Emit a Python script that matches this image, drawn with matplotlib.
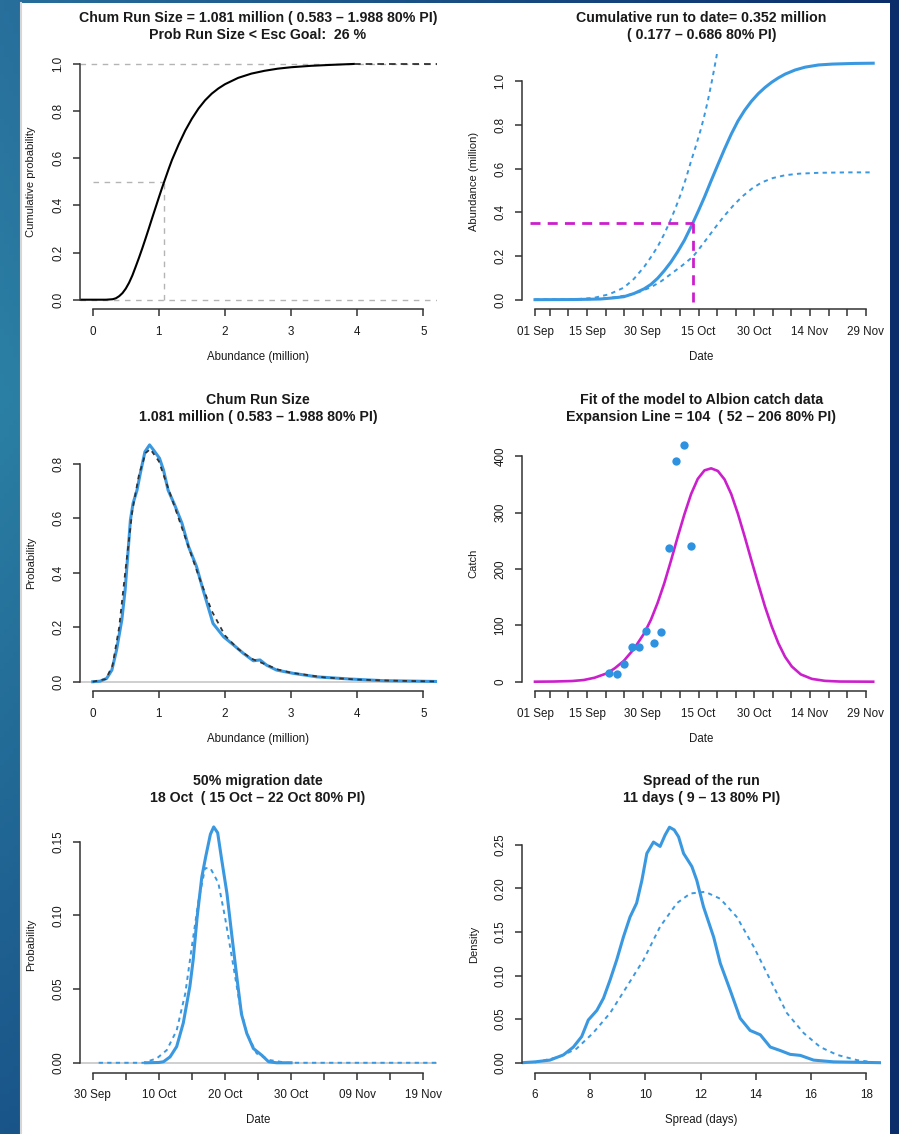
import numpy as np
import matplotlib
matplotlib.use("Agg")
import matplotlib.pyplot as plt
from matplotlib.patches import Rectangle
from matplotlib.lines import Line2D

plt.rcParams['font.family'] = ['Liberation Sans', 'DejaVu Sans']

W, H = 899, 1134
TXT = '#1a1a1a'
AX = '#333333'
BLUE = '#3a98e0'
PTBLUE = '#2f92e0'
MAG = '#cc1fcc'
GRAY = '#b4b4b4'
LGRAY = '#cccccc'

# ---------------- data ----------------
# Panel 1: cumulative probability of run size (million)
cdf_x = [-0.2, 0.2, 0.3, 0.35, 0.4, 0.45, 0.5, 0.55, 0.6, 0.65, 0.7, 0.75, 0.8, 0.85, 0.9, 0.95,
         1.0, 1.05, 1.1, 1.15, 1.2, 1.3, 1.4, 1.5, 1.6, 1.7, 1.8, 1.9, 2.0, 2.2, 2.4, 2.6, 2.8,
         3.0, 3.3, 3.6, 3.95]
cdf_y = [0, 0, 0.002, 0.006, 0.015, 0.028, 0.047, 0.072, 0.103, 0.14, 0.178, 0.218, 0.26, 0.303,
         0.347, 0.39, 0.433, 0.475, 0.515, 0.555, 0.593, 0.658, 0.717, 0.767, 0.81, 0.845, 0.873,
         0.895, 0.913, 0.94, 0.958, 0.97, 0.979, 0.985, 0.991, 0.995, 0.999]
cdf_tail_x = [3.95, 5.2]
cdf_tail_y = [1.0, 1.0]
run_median = 1.081

# Panel 2: cumulative run (days after 01 Sep)
run_days = [0, 10, 17.6, 21, 23.9, 26.6, 29.4, 31.2, 33.0, 34.8, 36.6, 38.4, 40.2, 42.5, 44.0,
            45.6, 47.4, 49.2, 51.0, 52.8, 54.6, 56.4, 58.2, 60.1, 61.9, 63.7, 65.5, 67.3, 70.0,
            72.7, 76.3, 80.0, 86, 91]
run_mid = [0, 0.0005, 0.003, 0.008, 0.0135, 0.028, 0.05, 0.07, 0.098, 0.133, 0.173, 0.22, 0.272,
           0.352, 0.408, 0.47, 0.545, 0.618, 0.69, 0.758, 0.818, 0.867, 0.908, 0.944, 0.972,
           0.996, 1.016, 1.033, 1.052, 1.065, 1.075, 1.079, 1.082, 1.083]
up_days = [0, 10, 15.8, 20, 23.9, 26.6, 29.4, 31.2, 33.0, 34.6, 36.1, 37.7, 39.3, 40.7, 42.0,
           43.4, 44.7, 45.6, 46.5, 47.7, 48.8, 49.5]
run_up = [0, 0.001, 0.008, 0.025, 0.055, 0.095, 0.151, 0.195, 0.243, 0.295, 0.35, 0.415, 0.487,
          0.56, 0.635, 0.71, 0.785, 0.845, 0.91, 1.01, 1.11, 1.18]
lo_days = [0, 15, 20, 24.8, 28, 31.2, 34, 36.6, 39.5, 42.5, 44.5, 46.5, 48.7, 51.0, 53.3, 55.6,
           58.3, 61.0, 64, 67.3, 71, 76.3, 84, 91]
run_lo = [0, 0.002, 0.008, 0.02, 0.035, 0.057, 0.085, 0.118, 0.155, 0.197, 0.24, 0.285, 0.335,
          0.385, 0.43, 0.47, 0.508, 0.537, 0.557, 0.57, 0.577, 0.581, 0.583, 0.583]
to_date_day = 42.5
to_date_val = 0.352
date_ticks = [0, 4, 9, 14, 19, 24, 29, 34, 39, 44, 49, 54, 59, 64, 69, 74, 79, 84, 89]
date_labels = ['01 Sep', '', '', '15 Sep', '', '', '30 Sep', '', '', '15 Oct', '', '',
               '30 Oct', '', '', '14 Nov', '', '', '29 Nov']

# Panel 3: run size density
dens_x = [0, 0.11, 0.21, 0.29, 0.36, 0.44, 0.49, 0.54, 0.57, 0.61, 0.67, 0.72, 0.79, 0.86, 0.92,
          1.01, 1.07, 1.14, 1.24, 1.35, 1.45, 1.57, 1.67, 1.82, 1.98, 2.13, 2.28, 2.43, 2.53,
          2.63, 2.78, 3.03, 3.39, 3.89, 4.39, 5.2]
dens_y = [0, 0.002, 0.012, 0.043, 0.116, 0.227, 0.337, 0.496, 0.594, 0.655, 0.704, 0.766, 0.845,
          0.87, 0.851, 0.821, 0.778, 0.704, 0.649, 0.582, 0.496, 0.423, 0.337, 0.214, 0.165,
          0.135, 0.104, 0.077, 0.08, 0.061, 0.043, 0.031, 0.018, 0.01, 0.004, 0.001]
fit_x = [0, 0.2, 0.3, 0.4, 0.5, 0.6, 0.7, 0.8, 0.87, 1.0, 1.1, 1.2, 1.4, 1.6, 1.8, 2.0, 2.2, 2.4,
         2.6, 2.8, 3.0, 3.5, 4.0, 4.5, 5.2]
fit_y = [0, 0.01, 0.06, 0.2, 0.42, 0.63, 0.76, 0.84, 0.855, 0.81, 0.74, 0.67, 0.53, 0.39, 0.26,
         0.17, 0.12, 0.085, 0.065, 0.045, 0.033, 0.016, 0.008, 0.004, 0.001]

# Panel 4: Albion catch (days after 01 Sep)
catch_days = [20, 22, 24, 26, 28, 30, 32, 34, 36, 38, 40, 42]
catch_vals = [15, 13, 31, 62, 62, 90, 68, 88, 238, 392, 420, 240]
model_days = [0, 5, 10, 13.1, 16, 19.4, 21.5, 23.9, 26.6, 29.4, 31.2, 33.0, 34.8, 36.6, 38.4,
              40.2, 42.0, 43.8, 45.6, 47.4, 49.2, 51.0, 52.8, 54.6, 56.4, 58.2, 60.0, 61.9, 63.7,
              65.5, 67.3, 69.1, 71.5, 74.5, 78, 82, 91]
model_vals = [0, 0.3, 1.2, 3, 7, 15, 24, 37, 58, 86, 110, 140, 175, 215, 257, 297, 333, 360,
              375, 378.6, 374, 359, 333, 298, 258, 216, 175, 133, 98, 68, 44, 27, 13, 5, 1.5,
              0.3, 0]

# Panel 5: 50% migration date (days after 30 Sep)
mig_x = [8.0, 10.0, 10.7, 11.7, 12.7, 13.7, 14.7, 15.2, 15.8, 16.5, 17.1, 17.8, 18.3, 18.9, 19.5,
         20.3, 21.0, 21.8, 22.5, 23.3, 24.3, 25.6, 26.6, 27.8, 30.0]
mig_y = [0, 0.0002, 0.0007, 0.004, 0.011, 0.027, 0.052, 0.07, 0.099, 0.126, 0.14, 0.155, 0.16,
         0.156, 0.138, 0.115, 0.088, 0.058, 0.033, 0.02, 0.0097, 0.005, 0.0007, 0.0, 0.0]
mig_prior_x = [0.9, 7.7, 9.7, 11.2, 12.7, 14.0, 15.0, 16.0, 17.0, 17.8, 19.0, 20.0, 21.3, 22.3,
               23.3, 24.8, 26.8, 29.3, 52]
mig_prior_y = [0, 0, 0.003, 0.0086, 0.022, 0.047, 0.079, 0.11, 0.132, 0.132, 0.122, 0.099,
               0.065, 0.038, 0.02, 0.0063, 0.0018, 0, 0]
mig_ticks = [0, 5, 10, 15, 20, 25, 30, 35, 40, 45, 50]
mig_labels = ['30 Sep', '', '10 Oct', '', '20 Oct', '', '30 Oct', '', '09 Nov', '', '19 Nov']

# Panel 6: spread of the run (days)
spr_x = [5.52, 6.0, 6.54, 7.03, 7.39, 7.69, 7.93, 8.24, 8.48, 8.72, 8.96, 9.20, 9.44, 9.68, 9.87,
         10.05, 10.29, 10.53, 10.71, 10.87, 11.04, 11.2, 11.38, 11.68, 11.86, 12.1, 12.47, 12.71,
         13.07, 13.43, 13.79, 14.16, 14.52, 14.88, 15.24, 15.61, 16.09, 16.82, 18.6]
spr_y = [0, 0.001, 0.003, 0.009, 0.018, 0.03, 0.049, 0.06, 0.074, 0.095, 0.118, 0.144, 0.167,
         0.183, 0.209, 0.24, 0.253, 0.248, 0.261, 0.27, 0.267, 0.259, 0.24, 0.225, 0.209, 0.179,
         0.144, 0.114, 0.083, 0.051, 0.037, 0.032, 0.018, 0.014, 0.0096, 0.0084, 0.003, 0.001, 0]
spr_prior_x = [6.0, 6.9, 7.5, 8.1, 8.72, 9.32, 9.93, 10.53, 11.14, 11.62, 12.16, 12.71, 13.31,
               13.92, 14.52, 15.12, 15.73, 16.33, 16.94, 17.66, 18.14]
spr_prior_y = [0.0004, 0.007, 0.016, 0.034, 0.057, 0.087, 0.118, 0.156, 0.183, 0.194, 0.196,
               0.188, 0.167, 0.133, 0.095, 0.057, 0.034, 0.018, 0.009, 0.003, 0.001]

titles = [("Chum Run Size = 1.081 million ( 0.583 \u2013 1.988 80% PI)",
           "Prob Run Size < Esc Goal:  26 %"),
          ("Cumulative run to date= 0.352 million",
           "( 0.177 \u2013 0.686 80% PI)"),
          ("Chum Run Size", "1.081 million ( 0.583 \u2013 1.988 80% PI)"),
          ("Fit of the model to Albion catch data",
           "Expansion Line = 104  ( 52 \u2013 206 80% PI)"),
          ("50% migration date", "18 Oct  ( 15 Oct \u2013 22 Oct 80% PI)"),
          ("Spread of the run", "11 days ( 9 \u2013 13 80% PI)")]
xlabels = ["Abundance (million)", "Date", "Abundance (million)", "Date", "Date", "Spread (days)"]
ylabels = ["Cumulative probability", "Abundance (million)", "Probability", "Catch",
           "Probability", "Density"]

# ---------------- figure ----------------
fig = plt.figure(figsize=(W / 100, H / 100), dpi=100)

# background gradient (slide)
bg = fig.add_axes([0, 0, 1, 1], zorder=-10)
bg.set_axis_off()
yy = np.linspace(0, 1, 200)[:, None]
xx = np.linspace(0, 1, 200)[None, :]
top_l = np.array([0x28, 0x6f, 0x9c]) / 255
mid_l = np.array([0x2b, 0x80, 0xa5]) / 255
bot_l = np.array([0x1a, 0x55, 0x89]) / 255
right_c = np.array([0x0b, 0x2e, 0x6b]) / 255
left_col = np.where(yy[..., None] < 0.35,
                    top_l + (mid_l - top_l) * (yy[..., None] / 0.35),
                    mid_l + (bot_l - mid_l) * ((yy[..., None] - 0.35) / 0.65))
img = left_col + (right_c - left_col) * xx[..., None]
bg.imshow(img, extent=[0, 1, 0, 1], aspect='auto', origin='upper')
bg.set_xlim(0, 1)
bg.set_ylim(0, 1)
fig.patches.append(Rectangle((20 / W, 0), (890 - 20) / W, 1 - 3 / H, transform=fig.transFigure,
                             facecolor='white', edgecolor='none', zorder=-5))
fig.lines.append(Line2D([21 / W, 21 / W], [0, 1 - 3 / H], transform=fig.transFigure,
                        color='#d6d6d6', lw=1.5, zorder=-4))

cols = [(79.5, 436.5), (521.7, 881.0)]
ROW = 381.5


def add_panel(idx):
    r, c = divmod(idx, 2)
    x0, x1 = cols[c]
    top = 53.6 + ROW * r
    bot = 309.5 + ROW * r
    ax = fig.add_axes([x0 / W, 1 - bot / H, (x1 - x0) / W, (bot - top) / H])
    ax.set_facecolor('none')
    for s in ['top', 'right']:
        ax.spines[s].set_visible(False)
    for s in ['left', 'bottom']:
        ax.spines[s].set_color(AX)
        ax.spines[s].set_linewidth(1.1)
    ax.tick_params(axis='both', colors=AX, length=5.0, width=1.1, labelcolor=TXT,
                   labelsize=8.4)
    ax.tick_params(axis='x', pad=7.0)
    ax.tick_params(axis='y', pad=6.0)
    cx = (x0 + x1) / 2
    l1, l2 = titles[idx]
    fig.text(cx / W, 1 - (18 + ROW * r) / H, l1, ha='center', va='center', fontsize=10.2,
             fontweight='bold', color=TXT)
    fig.text(cx / W, 1 - (35 + ROW * r) / H, l2, ha='center', va='center', fontsize=10.2,
             fontweight='bold', color=TXT)
    fig.text(cx / W, 1 - (357.3 + ROW * r) / H, xlabels[idx], ha='center', va='center',
             fontsize=8.3, color=TXT)
    fig.text((x0 - 48.0) / W, 1 - ((top + bot) / 2) / H, ylabels[idx], ha='center',
             va='center', rotation=90, fontsize=8.0, color=TXT)
    return ax


def yticks(ax, vals, fmt):
    ax.set_yticks(vals)
    ax.set_yticklabels([fmt.format(v) for v in vals], rotation=90, va='center')
    ax.spines['left'].set_bounds(vals[0], vals[-1])


def xticks(ax, vals, labels):
    ax.set_xticks(vals)
    ax.set_xticklabels(labels)
    ax.spines['bottom'].set_bounds(vals[0], vals[-1])


# Panel 1
ax = add_panel(0)
ax.set_xlim(-0.2, 5.2)
ax.set_ylim(-0.0415, 1.0428)
ax.axhline(0, color=GRAY, lw=1.0, ls=(0, (4, 4)))
ax.axhline(1, color=GRAY, lw=1.0, ls=(0, (4, 4)))
ax.plot([0, run_median], [0.5, 0.5], color=GRAY, lw=1.0, ls=(0, (4, 4)))
ax.plot([run_median, run_median], [0, 0.5], color=GRAY, lw=1.0, ls=(0, (4, 4)))
ax.plot(cdf_x, cdf_y, color='black', lw=1.5)
ax.plot(cdf_tail_x, cdf_tail_y, color='#222222', lw=1.2, ls=(0, (4, 3)))
yticks(ax, [0, 0.2, 0.4, 0.6, 0.8, 1.0], "{:.1f}")
xticks(ax, [0, 1, 2, 3, 4, 5], ['0', '1', '2', '3', '4', '5'])

# Panel 2
ax = add_panel(1)
ax.set_xlim(-3.58, 93.1)
ax.set_ylim(-0.045, 1.127)
ax.plot(up_days, run_up, color=BLUE, lw=1.4, ls=(0, (2.2, 2.2)))
ax.plot(lo_days, run_lo, color=BLUE, lw=1.4, ls=(0, (2.2, 2.2)))
ax.plot(run_days, run_mid, color=BLUE, lw=2.2)
ax.plot([-1.4, to_date_day], [to_date_val, to_date_val], color=MAG, lw=2.0,
        ls=(0, (3.6, 2.6)))
ax.plot([to_date_day, to_date_day], [-0.01, to_date_val], color=MAG, lw=2.0,
        ls=(0, (3.6, 2.6)))
yticks(ax, [0, 0.2, 0.4, 0.6, 0.8, 1.0], "{:.1f}")
xticks(ax, date_ticks, date_labels)

# Panel 3
ax = add_panel(2)
ax.set_xlim(-0.2, 5.2)
ax.set_ylim(-0.034, 0.906)
ax.axhline(0, color=LGRAY, lw=1.3)
ax.plot(dens_x, dens_y, color=BLUE, lw=2.2)
ax.plot(fit_x, fit_y, color='#333333', lw=1.3, ls=(0, (2.5, 2.5)))
yticks(ax, [0, 0.2, 0.4, 0.6, 0.8], "{:.1f}")
xticks(ax, [0, 1, 2, 3, 4, 5], ['0', '1', '2', '3', '4', '5'])

# Panel 4
ax = add_panel(3)
ax.set_xlim(-3.58, 93.1)
ax.set_ylim(-16.5, 437.6)
ax.plot(model_days, model_vals, color=MAG, lw=1.9)
ax.plot(catch_days, catch_vals, 'o', color=PTBLUE, ms=6.0, mec='none')
yticks(ax, [0, 100, 200, 300, 400], "{:.0f}")
xticks(ax, date_ticks, date_labels)

# Panel 5
ax = add_panel(4)
ax.set_xlim(-2, 52)
ax.set_ylim(-0.0066, 0.167)
ax.axhline(0, color=LGRAY, lw=1.3)
ax.plot(mig_prior_x, mig_prior_y, color=BLUE, lw=1.4, ls=(0, (2.2, 2.2)))
ax.plot(mig_x, mig_y, color=BLUE, lw=2.2)
yticks(ax, [0, 0.05, 0.10, 0.15], "{:.2f}")
xticks(ax, mig_ticks, mig_labels)

# Panel 6
ax = add_panel(5)
ax.set_xlim(5.518, 18.53)
ax.set_ylim(-0.0112, 0.2822)
ax.axhline(0, color=LGRAY, lw=1.3)
ax.plot(spr_prior_x, spr_prior_y, color=BLUE, lw=1.4, ls=(0, (2.2, 2.2)))
ax.plot(spr_x, spr_y, color=BLUE, lw=2.2)
yticks(ax, [0, 0.05, 0.10, 0.15, 0.20, 0.25], "{:.2f}")
xticks(ax, [6, 8, 10, 12, 14, 16, 18], ['6', '8', '10', '12', '14', '16', '18'])

fig.savefig('out.png', dpi=100)
